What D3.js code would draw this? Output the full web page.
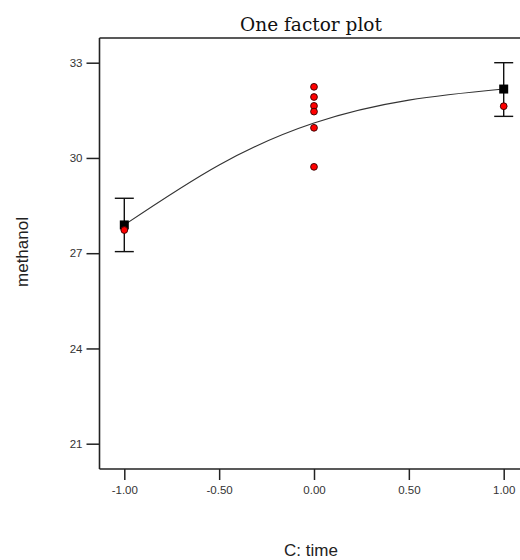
<!DOCTYPE html>
<html>
<head>
<meta charset="utf-8">
<script src="https://cdn.jsdelivr.net/npm/d3@7"></script>
<style>
  html, body { margin: 0; padding: 0; background: #fff; overflow: hidden; }
  svg { display: block; }
</style>
</head>
<body>
<svg id="chart" width="520" height="560"></svg>
<script>
// Factor levels and tick labels
const xTicks = [-1, -0.5, 0, 0.5, 1];
const yTicks = [21, 24, 27, 30, 33];

// Observed runs (red points)
const obsX = [-1, 0, 0, 0, 0, 0, 0, 1];
const obsY = [27.73, 32.24, 31.92, 31.64, 31.46, 30.95, 29.72, 31.63];

// Predicted means at the design points with their interval bounds
const meanX = [-1, 1];
const meanY = [27.89, 32.17];
const meanLo = [27.05, 31.31];
const meanHi = [28.73, 33.0];

// Fitted response along the factor
const fitX = [-1, -0.5, 0, 0.5, 1];
const fitY = [27.89, 29.78, 31.1, 31.82, 32.17];

const svg = d3.select("#chart");

const frame = { left: 99.5, top: 38, right: 520, bottom: 469 };

const x = d3.scaleLinear().domain([-1, 1]).range([124.3, 503.7]);
const y = d3.scaleLinear().domain([21, 33]).range([443.7, 62.7]);

// Title
svg.append("text")
  .attr("x", 311).attr("y", 31)
  .attr("text-anchor", "middle")
  .attr("font-family", "DejaVu Serif")
  .attr("font-size", 18.5)
  .attr("fill", "#111")
  .text("One factor plot");

// Axes
const tickFont = "Liberation Sans, Arial, sans-serif";
const fmtX = d => d3.format(".2f")(d).replace("\u2212", "-");

const yAxis = svg.append("g")
  .attr("transform", `translate(${frame.left},0)`)
  .call(d3.axisLeft(y).tickValues(yTicks).tickFormat(d3.format("d"))
    .tickSize(13).tickSizeOuter(0).tickPadding(4));
yAxis.select(".domain").remove();

const xAxis = svg.append("g")
  .attr("transform", `translate(0,${frame.bottom})`)
  .call(d3.axisBottom(x).tickValues(xTicks).tickFormat(fmtX)
    .tickSize(11).tickSizeOuter(0).tickPadding(6));
xAxis.select(".domain").remove();

svg.selectAll(".tick line").attr("stroke", "#222").attr("stroke-width", 1.5);
svg.selectAll(".tick text")
  .attr("font-family", tickFont)
  .attr("font-size", 11.5)
  .attr("fill", "#333");

// Plot frame: left, top and bottom edges, open to the right
const frameG = svg.append("g").attr("stroke", "#222").attr("stroke-width", 1.6);
frameG.append("line")
  .attr("x1", frame.left).attr("x2", frame.left)
  .attr("y1", frame.top).attr("y2", frame.bottom);
frameG.append("line")
  .attr("x1", frame.left).attr("x2", frame.right)
  .attr("y1", frame.top).attr("y2", frame.top);
frameG.append("line")
  .attr("x1", frame.left).attr("x2", frame.right)
  .attr("y1", frame.bottom).attr("y2", frame.bottom);

// Axis titles
svg.append("text")
  .attr("transform", `translate(28,252) rotate(-90)`)
  .attr("text-anchor", "middle")
  .attr("font-family", tickFont)
  .attr("font-size", 17)
  .attr("fill", "#222")
  .text("methanol");

svg.append("text")
  .attr("x", 311).attr("y", 556)
  .attr("text-anchor", "middle")
  .attr("font-family", tickFont)
  .attr("font-size", 17)
  .attr("fill", "#222")
  .text("C: time");

// Fitted curve
const fit = fitX.map((v, i) => [v, fitY[i]]);
svg.append("path")
  .datum(fit)
  .attr("fill", "none")
  .attr("stroke", "#333")
  .attr("stroke-width", 1.1)
  .attr("d", d3.line().x(d => x(d[0])).y(d => y(d[1])).curve(d3.curveNatural));

// Interval bars
const means = meanX.map((v, i) => ({ x: v, y: meanY[i], lo: meanLo[i], hi: meanHi[i] }));
const bars = svg.append("g").attr("stroke", "#111").attr("stroke-width", 1.4);
bars.selectAll("line.v").data(means).join("line")
  .attr("x1", d => x(d.x)).attr("x2", d => x(d.x))
  .attr("y1", d => y(d.lo)).attr("y2", d => y(d.hi));
bars.selectAll("line.hi").data(means).join("line")
  .attr("x1", d => x(d.x) - 9.5).attr("x2", d => x(d.x) + 9.5)
  .attr("y1", d => y(d.hi)).attr("y2", d => y(d.hi));
bars.selectAll("line.lo").data(means).join("line")
  .attr("x1", d => x(d.x) - 9.5).attr("x2", d => x(d.x) + 9.5)
  .attr("y1", d => y(d.lo)).attr("y2", d => y(d.lo));

// Mean markers
svg.append("g").selectAll("rect").data(means).join("rect")
  .attr("x", d => x(d.x) - 4.5).attr("y", d => y(d.y) - 4.5)
  .attr("width", 9).attr("height", 9)
  .attr("fill", "#000");

// Observed points
const obs = obsX.map((v, i) => [v, obsY[i]]);
svg.append("g").selectAll("circle").data(obs).join("circle")
  .attr("cx", d => x(d[0])).attr("cy", d => y(d[1]))
  .attr("r", 3.4)
  .attr("fill", "#ff0000")
  .attr("stroke", "#300")
  .attr("stroke-width", 0.9);
</script>
</body>
</html>
